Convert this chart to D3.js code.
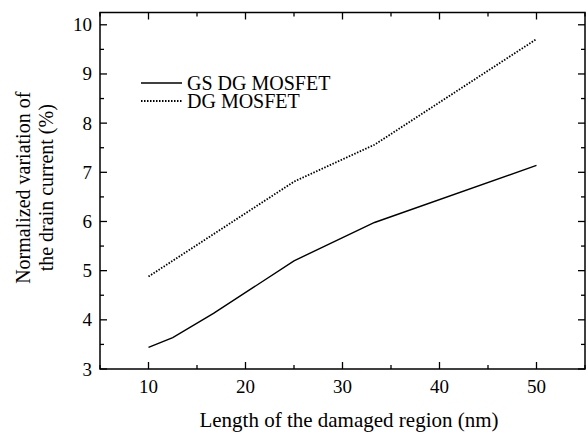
<!DOCTYPE html>
<html>
<head>
<meta charset="utf-8">
<script src="https://cdn.jsdelivr.net/npm/d3@7"></script>
<style>
  body { margin: 0; background: #fff; }
</style>
</head>
<body>
<div id="chart"></div>
<script>
// datos
const lengthGS = [10, 12.5, 16.7, 25, 33.3, 50];
const valuesGS = [3.44, 3.64, 4.13, 5.2, 5.98, 7.14];
const lengthDG = [10, 25, 33.3, 50];
const valuesDG = [4.88, 6.81, 7.56, 9.71];
const seriesNames = ["GS DG MOSFET", "DG MOSFET"];
const xTicks = [10, 20, 30, 40, 50];
const yTicks = [3, 4, 5, 6, 7, 8, 9, 10];

const WIDTH = 588, HEIGHT = 437;
const margins = { top: 12.5, bottom: 68, left: 100, right: 3 };
const FONT = "'Liberation Serif', 'Times New Roman', Times, 'DejaVu Serif', serif";

const svg = d3.select("#chart").append("svg")
  .attr("width", WIDTH).attr("height", HEIGHT)
  .attr("font-family", FONT)
  .style("font-family", FONT);

const x = d3.scaleLinear().domain([5, 55])
  .range([margins.left, WIDTH - margins.right]);
const y = d3.scaleLinear().domain([3, 10.25])
  .range([HEIGHT - margins.bottom, margins.top]);

const x0 = x.range()[0], x1 = x.range()[1];
const y0 = y.range()[0], y1 = y.range()[1];

// ticks hacia adentro (mayores y menores)
const xMinor = d3.range(5, 55.01, 5).filter(v => !xTicks.includes(v));
const yMinor = d3.range(3, 10.26, 0.5).filter(v => !yTicks.includes(v));
const ticks = svg.append("g").attr("stroke", "#000").attr("stroke-width", 1.3);

xTicks.forEach(v => {
  ticks.append("line").attr("x1", x(v)).attr("x2", x(v)).attr("y1", y0).attr("y2", y0 - 7);
  ticks.append("line").attr("x1", x(v)).attr("x2", x(v)).attr("y1", y1).attr("y2", y1 + 7);
});
xMinor.forEach(v => {
  ticks.append("line").attr("x1", x(v)).attr("x2", x(v)).attr("y1", y0).attr("y2", y0 - 4);
  ticks.append("line").attr("x1", x(v)).attr("x2", x(v)).attr("y1", y1).attr("y2", y1 + 4);
});
yTicks.forEach(v => {
  ticks.append("line").attr("x1", x0).attr("x2", x0 + 7).attr("y1", y(v)).attr("y2", y(v));
  ticks.append("line").attr("x1", x1).attr("x2", x1 - 7).attr("y1", y(v)).attr("y2", y(v));
});
yMinor.forEach(v => {
  ticks.append("line").attr("x1", x0).attr("x2", x0 + 4).attr("y1", y(v)).attr("y2", y(v));
  ticks.append("line").attr("x1", x1).attr("x2", x1 - 4).attr("y1", y(v)).attr("y2", y(v));
});

// marco
svg.append("rect")
  .attr("x", x0).attr("y", y1)
  .attr("width", x1 - x0).attr("height", y0 - y1)
  .attr("fill", "none").attr("stroke", "#000").attr("stroke-width", 1.5);

// etiquetas de ticks
svg.append("g").selectAll("text").data(xTicks).join("text")
  .attr("x", d => x(d)).attr("y", y0 + 24)
  .attr("text-anchor", "middle").style("font-size", "19px")
  .text(d => d);
svg.append("g").selectAll("text").data(yTicks).join("text")
  .attr("x", x0 - 8).attr("y", d => y(d) + 6.5)
  .attr("text-anchor", "end").style("font-size", "19px")
  .text(d => d);

// titulos de ejes
svg.append("text")
  .attr("x", 349).attr("y", 427)
  .attr("text-anchor", "middle").style("font-size", "21px")
  .text("Length of the damaged region (nm)");
const yl = svg.append("text")
  .attr("transform", `translate(0, ${(y0 + y1) / 2 - 3}) rotate(-90)`)
  .attr("text-anchor", "middle").style("font-size", "20px");
yl.append("tspan").attr("x", 0).attr("y", 30).text("Normalized variation of");
yl.append("tspan").attr("x", 0).attr("y", 53).text("the drain current (%)");

// curvas
const line = d3.line().x(d => x(d[0])).y(d => y(d[1]));
const dataGS = lengthGS.map((v, i) => [v, valuesGS[i]]);
const dataDG = lengthDG.map((v, i) => [v, valuesDG[i]]);

svg.append("path").datum(dataGS).attr("d", line)
  .attr("fill", "none").attr("stroke", "#000").attr("stroke-width", 1.4);
svg.append("path").datum(dataDG).attr("d", line)
  .attr("fill", "none").attr("stroke", "#000").attr("stroke-width", 1.8)
  .attr("stroke-dasharray", "1.5,1.5");

// leyenda
const legend = svg.append("g");
legend.append("line").attr("x1", 141).attr("x2", 182).attr("y1", 83).attr("y2", 83)
  .attr("stroke", "#000").attr("stroke-width", 1.4);
legend.append("line").attr("x1", 141).attr("x2", 182).attr("y1", 101).attr("y2", 101)
  .attr("stroke", "#000").attr("stroke-width", 1.8).attr("stroke-dasharray", "1.5,1.5");
legend.append("text").attr("x", 187).attr("y", 89.5).style("font-size", "20px").text(seriesNames[0]);
legend.append("text").attr("x", 187).attr("y", 107.5).style("font-size", "20px").text(seriesNames[1]);
</script>
</body>
</html>
